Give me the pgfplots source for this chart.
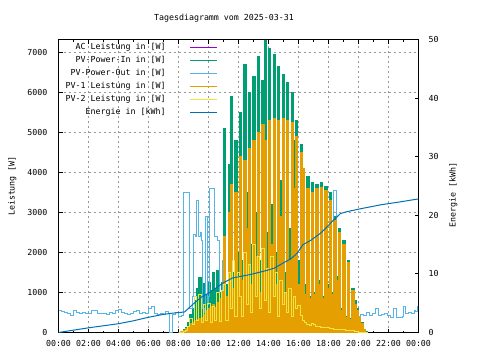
\documentclass[border=0pt]{standalone}
\usepackage{pgfplots}
\pgfplotsset{compat=1.18}
\usepackage{pgfplotstable}
\usepackage{fontspec}
\setmainfont{DejaVu Sans Mono}
\definecolor{gpPurple}{HTML}{9400D3}
\definecolor{gpGreen}{HTML}{009E73}
\definecolor{gpSky}{HTML}{56B4E9}
\definecolor{gpOrange}{HTML}{E69F00}
\definecolor{gpYellow}{HTML}{F0E442}
\definecolor{gpBlue}{HTML}{0072B2}

% time in minutes after midnight
\pgfplotstableread{
m g o y
480 0 0 0
488 25 25 0
500 75 50 25
508 125 100 50
516 250 150 150
524 450 225 350
536 600 250 200
544 800 300 900
552 1100 325 300
560 1375 350 950
572 850 375 250
580 1225 450 700
588 950 550 300
596 1250 600 725
608 1050 650 250
616 1500 700 650
624 1100 625 300
632 1550 750 1000
644 1000 850 275
652 1250 1000 1050
660 5100 2400 1200
668 1200 900 300
680 4200 3000 1500
688 5900 3700 600
696 1500 1100 1800
704 4800 3500 400
716 2000 1400 1500
724 5500 4400 900
732 1800 1300 400
740 6700 4300 2000
752 3500 2600 700
760 6000 4600 1700
768 2200 1200 500
776 6400 4800 2200
788 3000 1900 900
796 6900 5000 1900
804 1800 1000 600
812 6300 5200 2100
824 7300 4800 800
832 2500 1600 1600
840 7100 5300 500
848 3200 2200 1900
860 6950 5350 900
868 2000 1200 1500
876 6650 5300 400
884 3800 2900 1300
896 6450 5350 700
904 1500 1000 1000
912 6250 5300 500
920 2600 1800 1100
932 6000 5250 400
940 4800 3600 900
948 5300 4900 600
956 1800 1200 675
968 4700 4500 425
976 4100 4100 300
984 1200 950 250
992 3900 3600 200
1004 900 850 175
1012 3750 3500 225
1020 1000 950 200
1028 3700 3600 150
1040 1300 1200 150
1048 3750 3625 125
1056 900 850 125
1064 3650 3550 125
1076 1200 1100 125
1084 3500 3300 100
1092 1000 950 100
1100 2900 2800 75
1112 1400 1300 75
1120 2600 2500 75
1128 600 550 75
1136 2300 2200 75
1148 400 375 50
1156 1800 1750 50
1164 350 325 50
1172 1100 1050 50
1184 800 700 25
1192 600 550 25
1200 400 375 0
1208 250 225 0
1220 75 75 0
1228 25 0 0
1236 0 0 0
}\daytable

\pgfplotstableread{
m w
0 550
12 525
24 500
36 475
48 425
60 560
72 500
84 475
96 500
108 475
120 475
132 560
144 550
156 475
168 475
180 475
192 450
204 500
216 475
228 560
240 575
252 500
264 475
276 450
288 475
300 525
312 560
324 475
336 500
348 475
360 600
372 650
384 475
396 450
408 475
420 450
428 525
440 475
444 0
452 0
456 450
468 500
480 400
492 425
500 3500
520 3500
524 600
536 900
540 2450
548 2400
552 3300
560 2400
568 2500
572 2300
576 600
584 500
588 2900
596 700
600 900
604 3600
620 3600
624 2400
636 2300
644 600
656 1800
660 700
680 2500
696 2500
704 3300
716 600
724 4200
732 300
740 4100
752 1200
760 4400
768 200
776 4600
788 500
796 4800
804 150
812 5000
824 4600
832 400
840 5100
848 700
860 5150
868 200
876 5100
884 1500
896 5150
904 300
912 5100
920 600
932 5050
940 2000
948 4700
956 500
968 4300
976 3900
984 600
992 3500
1004 650
1012 3400
1020 800
1028 3500
1040 1000
1048 3550
1056 700
1064 3500
1076 950
1084 3250
1092 800
1100 3550
1112 1150
1120 2450
1128 425
1136 2150
1148 300
1156 1700
1164 250
1172 1000
1184 650
1192 500
1200 400
1208 450
1220 425
1232 500
1244 425
1256 475
1268 600
1280 425
1292 450
1304 475
1316 425
1328 375
1340 600
1352 375
1364 375
1376 400
1380 650
1388 475
1400 500
1412 475
1424 550
1428 525
1436 650
1440 650
}\outtable

\pgfplotstableread{
m e
0 0
60 0.4
120 0.8
180 1.15
240 1.5
300 2.0
360 2.6
420 3.1
456 3.3
480 3.4
504 3.5
522 4.2
540 4.9
570 6.0
600 6.7
630 7.6
660 8.5
678 8.9
696 9.3
720 9.5
768 9.9
834 10.6
864 11.0
888 11.6
930 12.6
954 13.5
978 15.0
1008 15.7
1050 17.0
1080 18.3
1098 19.1
1128 20.3
1152 20.6
1206 21.1
1290 21.8
1368 22.3
1440 22.8
}\energytable

\begin{document}
\fontsize{8.3}{10}\selectfont
\begin{tikzpicture}
\useasboundingbox (0,0) rectangle (480pt,360pt);
\begin{axis}[
  at={(58.5pt,27.5pt)}, anchor=south west,
  scale only axis, width=360pt, height=293pt,
  xmin=0, xmax=1440, ymin=0, ymax=7325,
  xtick={0,120,...,1440},
  xticklabels={00:00,02:00,04:00,06:00,08:00,10:00,12:00,14:00,16:00,18:00,20:00,22:00,00:00},
  minor x tick num=1,
  ytick={0,1000,...,7000},
  ytick pos=left,
  scaled y ticks=false,
  scaled x ticks=false,
  /pgf/number format/1000 sep={},
  /pgf/number format/assume math mode=true,
  tick align=inside,
  major tick length=4pt, minor tick length=2pt,
  tick style={black, line width=1pt},
  axis line style={line width=1pt},
  grid=major,
  major grid style={dash pattern=on 2pt off 3pt, color=black!40, line width=1pt},
  xticklabel style={anchor=north, inner sep=0pt, yshift=-8pt},
  yticklabel style={anchor=east, inner sep=0pt, xshift=-11pt},
  every axis y label/.style={at={(axis description cs:-0.128,0.5)}, rotate=90, anchor=center},
  ylabel={Leistung [W]},
  every axis title/.style={at={(axis description cs:0.4597,1.0734)}, anchor=center},
  title={Tagesdiagramm vom 2025-03-31},
  legend plot pos=right,
  legend cell align=right,
  legend image code/.code={\draw[#1, line width=1pt] (0pt,0pt) -- (27pt,0pt);},
  legend style={at={(axis description cs:0.4417,0.9855)}, anchor=north east,
    draw=none, fill=none, inner sep=0pt, outer sep=0pt, column sep=24pt, row sep=5.5pt,
    nodes={inner sep=0pt, outer sep=0pt, text height=6pt, text depth=1.5pt}},
]
\addplot[gpPurple, line width=1pt, const plot] table[x=m, y=w] {\outtable};
\addlegendentry{AC Leistung in [W]}
\addplot[draw=gpGreen, fill=gpGreen, line width=1pt, const plot] table[x=m, y=g] {\daytable} \closedcycle;
\addlegendentry{PV-Power-In in [W]}
\addplot[gpSky, line width=1pt, const plot] table[x=m, y=w] {\outtable};
\addlegendentry{PV-Power-Out in [W]}
\addplot[draw=gpOrange, fill=gpOrange, line width=1pt, const plot] table[x=m, y=o] {\daytable} \closedcycle;
\addlegendentry{PV-1 Leistung in [W]}
\addplot[gpYellow, line width=1.5pt, const plot] table[x=m, y=y] {\daytable};
\addlegendentry{PV-2 Leistung in [W]}
\addlegendimage{gpBlue}
\addlegendentry{Energie in [kWh]}
\end{axis}
\begin{axis}[
  at={(58.5pt,27.5pt)}, anchor=south west,
  scale only axis, width=360pt, height=293pt,
  xmin=0, xmax=1440, ymin=0, ymax=50,
  axis x line=none,
  axis y line*=right,
  ytick={0,10,...,50},
  /pgf/number format/assume math mode=true,
  tick align=inside,
  major tick length=4pt,
  tick style={black, line width=1pt},
  axis line style={line width=1pt},
  yticklabel style={anchor=west, inner sep=0pt, xshift=10pt},
  every axis y label/.style={at={(axis description cs:1.097,0.47)}, rotate=90, anchor=center},
  ylabel={Energie [kWh]},
]
\addplot[gpBlue, line width=1pt] table[x=m, y=e] {\energytable};
\end{axis}
\end{tikzpicture}
\end{document}
